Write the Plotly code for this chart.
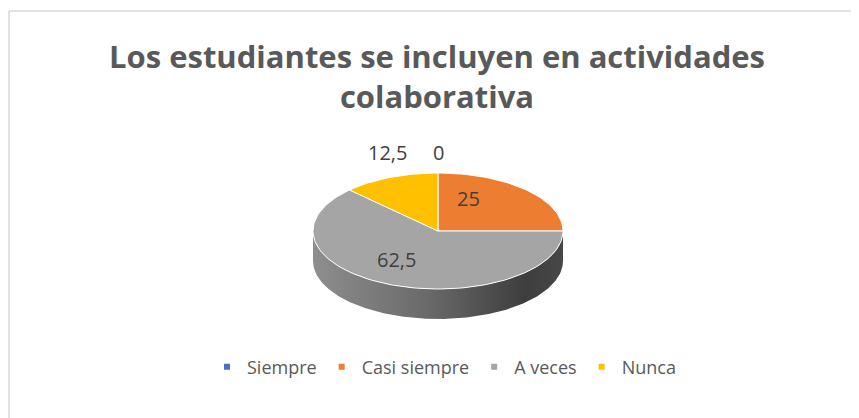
import numpy as np
import plotly.graph_objects as go

categories = ["Siempre", "Casi siempre", "A veces", "Nunca"]
values = [0, 25, 62.5, 12.5]
value_labels = ["0", "25", "62,5", "12,5"]
colors = ["#4472C4", "#ED7D31", "#A5A5A5", "#FFC000"]

# page has an 8px body margin: figure is placed at (8, 8) in the window
OFF = 8
W, H = 859, 418
FW, FH = W - OFF, H - OFF

# pie geometry (window pixel space)
CX, CY, RX, RY, DEPTH = 438, 231, 125, 58, 30
# label placement (window pixel space), per category
label_pos = [(438, 152), (468, 198), (396, 259), (387, 152)]


def paper_x(sx):
    return (sx - OFF) / FW


def paper_y(sy):
    return 1 - (sy - OFF) / FH


fig = go.Figure()

# side wall (front half)
t = np.linspace(0, np.pi, 200)
sx = np.concatenate([CX + RX * np.cos(t), (CX + RX * np.cos(t))[::-1]])
sy = np.concatenate([CY + RY * np.sin(t), (CY + DEPTH + RY * np.sin(t))[::-1]])
fig.add_trace(go.Scatter(
    x=sx, y=sy, mode="lines", fill="toself",
    line=dict(color="rgba(0,0,0,0)", width=0),
    fillgradient=dict(type="horizontal", start=CX - RX, stop=CX + RX,
                      colorscale=[[0, "#8e8e8e"], [0.45, "#6a6a6a"],
                                  [0.85, "#3e3e3e"], [1, "#474747"]]),
    hoverinfo="skip", showlegend=False))

# top face slices
total = sum(values)
cum = 0.0
for cat, v, c in zip(categories, values, colors):
    if v > 0:
        a0 = -np.pi / 2 + 2 * np.pi * cum / total
        a1 = -np.pi / 2 + 2 * np.pi * (cum + v) / total
        a = np.linspace(a0, a1, max(int(200 * v / total), 4))
        xs = np.concatenate([[CX], CX + RX * np.cos(a), [CX]])
        ys = np.concatenate([[CY], CY + RY * np.sin(a), [CY]])
        fig.add_trace(go.Scatter(
            x=xs, y=ys, mode="lines", fill="toself", fillcolor=c,
            line=dict(color="white", width=1),
            hoverinfo="skip", showlegend=False))
    cum += v

# legend entries
for cat, c in zip(categories, colors):
    fig.add_trace(go.Scatter(
        x=[None], y=[None], mode="markers", name=cat,
        marker=dict(symbol="square", size=6, color=c)))

# data labels
for (lx, ly), txt in zip(label_pos, value_labels):
    fig.add_annotation(x=lx, y=ly, text=txt, showarrow=False,
                       font=dict(family="Open Sans", size=20, color="#404040"))

# chart border (top and left edges)
fig.add_shape(type="line", x0=9, x1=W + 10, y0=11, y1=11,
              line=dict(color="#D9D9D9", width=1.5))
fig.add_shape(type="line", x0=9, x1=9, y0=11, y1=H + 10,
              line=dict(color="#D9D9D9", width=1.5))

fig.update_layout(
    width=FW, height=FH,
    margin=dict(l=0, r=0, t=0, b=0),
    paper_bgcolor="white", plot_bgcolor="white",
    xaxis=dict(range=[OFF, W], visible=False, fixedrange=True),
    yaxis=dict(range=[H, OFF], visible=False, fixedrange=True),
    title=dict(text="<b>Los estudiantes se incluyen en actividades<br>colaborativa</b>",
               x=paper_x(437), xanchor="center", y=paper_y(68), yanchor="top",
               font=dict(family="Open Sans", size=31, color="#595959")),
    legend=dict(orientation="h", x=paper_x(444), xanchor="center",
                y=paper_y(367), yanchor="middle",
                font=dict(family="Open Sans", size=18, color="#595959"),
                itemwidth=30, bgcolor="rgba(0,0,0,0)"),
    showlegend=True,
)

fig.write_html("out.html")
